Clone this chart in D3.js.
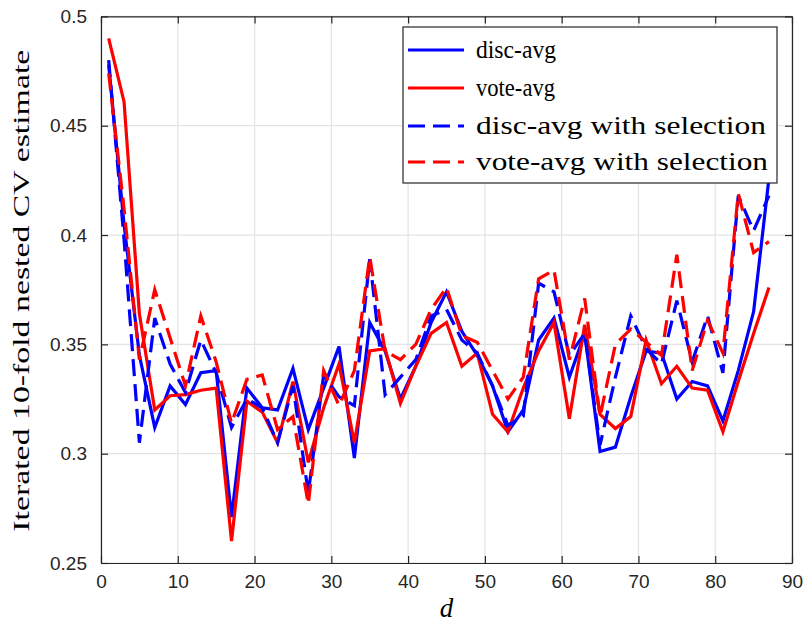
<!DOCTYPE html>
<html>
<head>
<meta charset="utf-8">
<script src="https://cdn.jsdelivr.net/npm/d3@7"></script>
<style>
  html, body { margin: 0; padding: 0; background: #fff; }
  svg { display: block; }
</style>
</head>
<body>
<svg id="chart" width="803" height="625"></svg>
<script>
const dValues = [1,3,5,7,9,11,13,15,17,19,21,23,25,27,29,31,33,35,37,39,41,43,45,47,49,51,53,55,57,59,61,63,65,67,69,71,73,75,77,79,81,83,85,87];

const discAvg = [0.478,0.405,0.345,0.312,0.331,0.3225,0.337,0.338,0.271,0.330,0.321,0.320,0.339,0.311,0.330,0.349,0.298,0.360,0.347,0.325,0.340,0.360,0.374,0.356,0.345,0.331,0.310,0.320,0.352,0.362,0.335,0.355,0.301,0.303,0.326,0.347,0.346,0.325,0.333,0.331,0.315,0.338,0.365,0.426];

const voteAvg = [0.490,0.461,0.364,0.320,0.3265,0.327,0.329,0.330,0.260,0.324,0.319,0.305,0.333,0.296,0.321,0.341,0.305,0.347,0.348,0.323,0.340,0.355,0.360,0.340,0.346,0.318,0.310,0.330,0.347,0.360,0.316,0.359,0.318,0.3115,0.317,0.352,0.332,0.340,0.330,0.329,0.310,0.333,0.355,0.376];

const discAvgSel = [0.480,0.398,0.305,0.362,0.341,0.328,0.352,0.337,0.312,0.325,0.321,0.305,0.331,0.282,0.336,0.326,0.322,0.389,0.327,0.335,0.343,0.363,0.366,0.352,0.346,0.331,0.313,0.317,0.378,0.374,0.345,0.355,0.304,0.335,0.363,0.348,0.341,0.370,0.342,0.363,0.337,0.418,0.402,0.418];

const voteAvgSel = [0.474,0.412,0.343,0.375,0.353,0.331,0.363,0.342,0.314,0.334,0.336,0.311,0.317,0.277,0.338,0.322,0.338,0.390,0.347,0.343,0.350,0.366,0.376,0.354,0.351,0.338,0.325,0.335,0.380,0.384,0.343,0.371,0.317,0.350,0.357,0.351,0.345,0.391,0.338,0.361,0.346,0.419,0.392,0.397];

const xTicks = [0,10,20,30,40,50,60,70,80,90];
const yTicks = [0.25,0.3,0.35,0.4,0.45,0.5];
const yTickLabels = ["0.25","0.3","0.35","0.4","0.45","0.5"];
const seriesNames = ["disc-avg","vote-avg","disc-avg with selection","vote-avg with selection"];
const xLabel = "d";
const yLabel = "Iterated 10-fold nested CV estimate";

const series = [
  {name: seriesNames[0], values: discAvg, color: "#0000ff", dash: null},
  {name: seriesNames[1], values: voteAvg, color: "#ff0000", dash: null},
  {name: seriesNames[2], values: discAvgSel, color: "#0000ff", dash: "17,8"},
  {name: seriesNames[3], values: voteAvgSel, color: "#ff0000", dash: "17,8"}
];

const L = 101, R = 792, T = 16.4, B = 563;
const x = d3.scaleLinear().domain([0, 90]).range([L, R]);
const y = d3.scaleLinear().domain([0.25, 0.5]).range([B, T]);

const svg = d3.select("#chart");
const axisColor = "#262626";

// grid
const grid = svg.append("g");
grid.selectAll("line.gx").data(xTicks).join("line")
  .attr("x1", d => x(d)).attr("x2", d => x(d))
  .attr("y1", T).attr("y2", B)
  .attr("stroke", "#e3e3e3").attr("stroke-width", 1.2);
grid.selectAll("line.gy").data(yTicks).join("line")
  .attr("y1", d => y(d)).attr("y2", d => y(d))
  .attr("x1", L).attr("x2", R)
  .attr("stroke", "#e3e3e3").attr("stroke-width", 1.2);

// clip
svg.append("clipPath").attr("id", "plotclip")
  .append("rect").attr("x", L).attr("y", T).attr("width", R - L).attr("height", B - T);

const line = d3.line().x((d, i) => x(dValues[i])).y(d => y(d));
const lines = svg.append("g").attr("clip-path", "url(#plotclip)");
series.forEach(s => {
  lines.append("path")
    .datum(s.values)
    .attr("d", line)
    .attr("fill", "none")
    .attr("stroke", s.color)
    .attr("stroke-width", 3.2)
    .attr("stroke-linejoin", "miter")
    .attr("stroke-dasharray", s.dash);
});

// axes (box with inner ticks)
const tickLen = 7;
const axB = d3.axisBottom(x).tickValues(xTicks).tickSizeInner(-tickLen).tickSizeOuter(0).tickPadding(12).tickFormat(d3.format("d"));
const axT = d3.axisTop(x).tickValues(xTicks).tickSizeInner(-tickLen).tickSizeOuter(0).tickFormat("");
const axLf = d3.axisLeft(y).tickValues(yTicks).tickSizeInner(-tickLen).tickSizeOuter(0).tickPadding(14).tickFormat((d, i) => yTickLabels[i]);
const axRt = d3.axisRight(y).tickValues(yTicks).tickSizeInner(-tickLen).tickSizeOuter(0).tickFormat("");

function styleAxis(g) {
  g.select(".domain").attr("stroke", axisColor).attr("stroke-width", 1.2);
  g.selectAll(".tick line").attr("stroke", axisColor).attr("stroke-width", 1.2);
  g.selectAll(".tick text").attr("fill", axisColor)
    .style("font-family", "'Liberation Sans', Arial, Helvetica, sans-serif")
    .style("font-size", "19px");
}
svg.append("g").attr("transform", `translate(0,${B})`).call(axB).call(styleAxis);
svg.append("g").attr("transform", `translate(0,${T})`).call(axT).call(styleAxis);
svg.append("g").attr("transform", `translate(${L},0)`).call(axLf).call(styleAxis);
svg.append("g").attr("transform", `translate(${R},0)`).call(axRt).call(styleAxis);

// axis labels
svg.append("text")
  .attr("x", x(45)).attr("y", 617)
  .attr("text-anchor", "middle")
  .style("font-family", "'Liberation Serif', 'DejaVu Serif', serif")
  .style("font-style", "italic")
  .style("font-size", "27px")
  .attr("fill", "#000")
  .text(xLabel);

svg.append("text")
  .attr("transform", `translate(29,${(T + B) / 2 + 1}) rotate(-90)`)
  .attr("text-anchor", "middle")
  .style("font-family", "'Liberation Serif', 'DejaVu Serif', serif")
  .style("font-size", "24px")
  .attr("textLength", 482)
  .attr("lengthAdjust", "spacingAndGlyphs")
  .attr("fill", "#000")
  .text(yLabel);

// legend
const lg = svg.append("g");
lg.append("rect")
  .attr("x", 403).attr("y", 27).attr("width", 374).attr("height", 156)
  .attr("fill", "#fff").attr("stroke", axisColor).attr("stroke-width", 1.2);
const rowY = [50, 88, 126, 162];
const textLens = [80, 79, 290, 292];
series.forEach((s, i) => {
  lg.append("line")
    .attr("x1", 408).attr("x2", 464)
    .attr("y1", rowY[i]).attr("y2", rowY[i])
    .attr("stroke", s.color).attr("stroke-width", 3.2)
    .attr("stroke-dasharray", s.dash);
  lg.append("text")
    .attr("x", 476).attr("y", rowY[i] + 8)
    .style("font-family", "'Liberation Serif', 'DejaVu Serif', serif")
    .style("font-size", "26px")
    .attr("textLength", textLens[i])
    .attr("lengthAdjust", "spacingAndGlyphs")
    .attr("fill", "#000")
    .text(s.name);
});
</script>
</body>
</html>
